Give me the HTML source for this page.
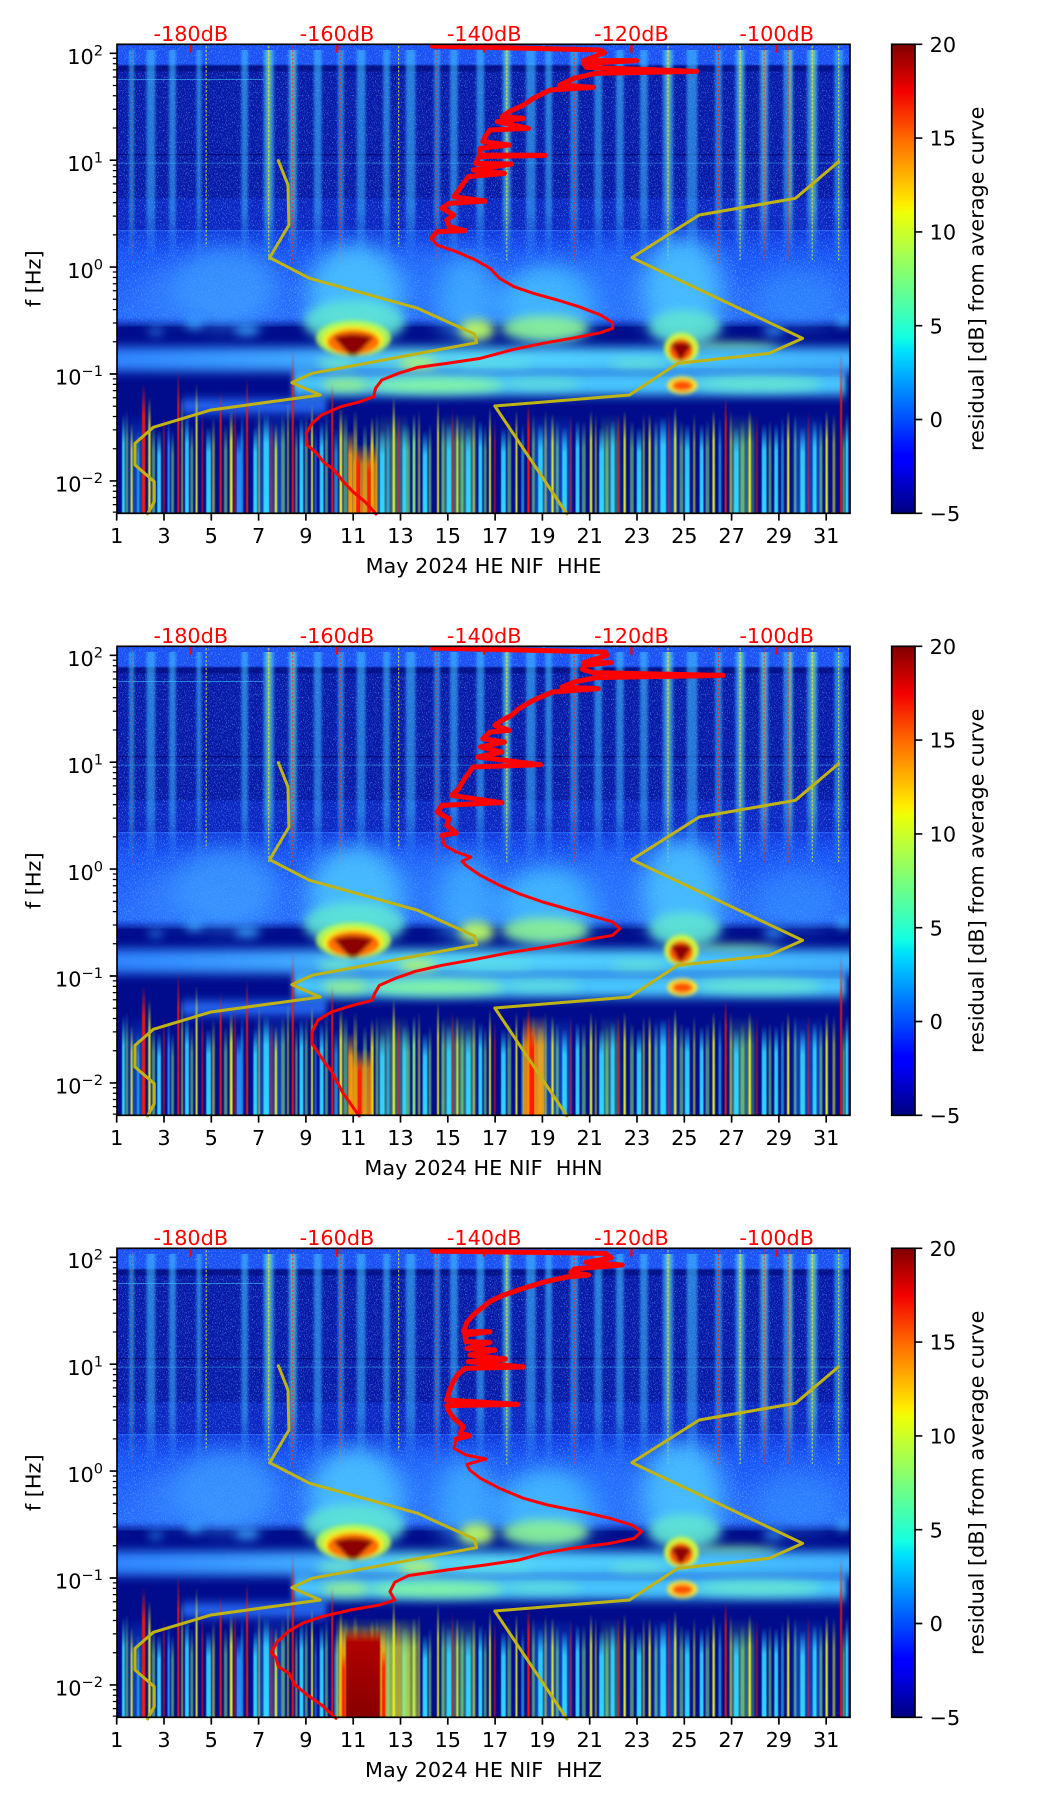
<!DOCTYPE html>
<html><head><meta charset="utf-8">
<style>
html,body{margin:0;padding:0;background:#fff;}
body{width:1052px;height:1806px;overflow:hidden;}
svg{display:block;}
text{font-family:"DejaVu Sans","Liberation Sans",sans-serif;font-size:20.8px;fill:#000;}
.r{fill:#ff0000;}
</style></head><body>
<svg width="1052" height="1806" viewBox="0 0 1052 1806" xmlns="http://www.w3.org/2000/svg">
<defs>
<linearGradient id="gmid" x1="0" y1="0" x2="0" y2="1">
<stop offset="0" stop-color="#0f36dc"/><stop offset="0.25" stop-color="#1a52f6"/><stop offset="1" stop-color="#2a70ff"/>
</linearGradient>
<linearGradient id="ug" x1="0" y1="0" x2="0" y2="1">
<stop offset="0" stop-color="#40c0ff" stop-opacity="0.6"/><stop offset="0.75" stop-color="#40c0ff" stop-opacity="0.5"/><stop offset="1" stop-color="#40c0ff" stop-opacity="0"/>
</linearGradient>
<linearGradient id="ugY" x1="0" y1="0" x2="0" y2="1">
<stop offset="0" stop-color="#c8ff40" stop-opacity="0.5"/><stop offset="0.7" stop-color="#c8ff40" stop-opacity="0.35"/><stop offset="1" stop-color="#c8ff40" stop-opacity="0"/>
</linearGradient>
<linearGradient id="lC" x1="0" y1="0" x2="0" y2="1"><stop offset="0" stop-color="#30d8ff" stop-opacity="0"/><stop offset="0.3" stop-color="#30d8ff" stop-opacity="0.9"/><stop offset="1" stop-color="#30d8ff"/></linearGradient>
<linearGradient id="lY" x1="0" y1="0" x2="0" y2="1"><stop offset="0" stop-color="#e8f020" stop-opacity="0"/><stop offset="0.3" stop-color="#e8f020" stop-opacity="0.9"/><stop offset="1" stop-color="#e8f020"/></linearGradient>
<linearGradient id="lR" x1="0" y1="0" x2="0" y2="1"><stop offset="0" stop-color="#ff1a00" stop-opacity="0"/><stop offset="0.25" stop-color="#ff1a00" stop-opacity="0.9"/><stop offset="1" stop-color="#ff1a00"/></linearGradient>
<linearGradient id="lO" x1="0" y1="0" x2="0" y2="1"><stop offset="0" stop-color="#ff9a00" stop-opacity="0"/><stop offset="0.3" stop-color="#ff9a00" stop-opacity="0.9"/><stop offset="1" stop-color="#ff9a00"/></linearGradient>
<linearGradient id="lG" x1="0" y1="0" x2="0" y2="1"><stop offset="0" stop-color="#90ff70" stop-opacity="0"/><stop offset="0.3" stop-color="#90ff70" stop-opacity="0.85"/><stop offset="1" stop-color="#90ff70" stop-opacity="0.9"/></linearGradient>
<linearGradient id="lB" x1="0" y1="0" x2="0" y2="1"><stop offset="0" stop-color="#2a90ff" stop-opacity="0"/><stop offset="0.3" stop-color="#2a90ff" stop-opacity="0.9"/><stop offset="1" stop-color="#2a90ff"/></linearGradient>
<linearGradient id="lDR" x1="0" y1="0" x2="0" y2="1"><stop offset="0" stop-color="#b00000" stop-opacity="0"/><stop offset="0.15" stop-color="#b00000"/><stop offset="1" stop-color="#880000"/></linearGradient>
<linearGradient id="b1" x1="0" y1="0" x2="1" y2="0">
<stop offset="0" stop-color="#2f84ff"/><stop offset="0.25" stop-color="#40a8ff"/><stop offset="0.4" stop-color="#58d8f0"/><stop offset="0.6" stop-color="#50d0ff"/><stop offset="0.8" stop-color="#48c4ff"/><stop offset="1" stop-color="#40b0ff"/>
</linearGradient>
<linearGradient id="jet" x1="0" y1="0" x2="0" y2="1">
<stop offset="0" stop-color="#800000"/><stop offset="0.1" stop-color="#f30000"/><stop offset="0.2" stop-color="#ff6800"/><stop offset="0.3" stop-color="#ffc600"/><stop offset="0.34" stop-color="#ffec00"/><stop offset="0.36" stop-color="#eeff07"/><stop offset="0.5" stop-color="#7bff7b"/><stop offset="0.625" stop-color="#14ffe2"/><stop offset="0.65" stop-color="#00e5f7"/><stop offset="0.66" stop-color="#00dbff"/><stop offset="0.875" stop-color="#0000ff"/><stop offset="0.89" stop-color="#0000ff"/><stop offset="1" stop-color="#000080"/>
</linearGradient>
<filter id="spk" x="0" y="0" width="100%" height="100%">
<feTurbulence type="fractalNoise" baseFrequency="0.55 0.2" numOctaves="2" seed="7" result="n"/>
<feColorMatrix in="n" type="matrix" values="0 0 0 0 0.2  0 0 0 0 0.75  0 0 0 0 1  3.5 0 0 0 -1.85"/>
</filter>
<filter id="fh" x="-20%" y="-5%" width="140%" height="110%"><feGaussianBlur stdDeviation="3 0"/></filter>
<filter id="fh2" x="-20%" y="-5%" width="140%" height="110%"><feGaussianBlur stdDeviation="1.2 0"/></filter>
<filter id="fb1" x="-60%" y="-60%" width="220%" height="220%"><feGaussianBlur stdDeviation="25 30"/></filter>
<filter id="fb2" x="-60%" y="-60%" width="220%" height="220%"><feGaussianBlur stdDeviation="10 15"/></filter>
<filter id="fb3" x="-60%" y="-60%" width="220%" height="220%"><feGaussianBlur stdDeviation="4 6"/></filter>
<filter id="fb4" x="-10%" y="-80%" width="120%" height="260%"><feGaussianBlur stdDeviation="6 16"/></filter>
<filter id="fb5" x="-10%" y="-80%" width="120%" height="260%"><feGaussianBlur stdDeviation="4 12"/></filter>
<clipPath id="pc"><rect x="14.6" y="43" width="1524" height="1407"/></clipPath>

<g id="spec"><g clip-path="url(#pc)">
<rect x="0" y="0" width="1560" height="1500" fill="#000c8c"/>
<rect x="0" y="40" width="1560" height="70" fill="#1b4ff4"/>
<rect x="0" y="108" width="1560" height="400" fill="#0717a8"/>
<rect x="0" y="505" width="1560" height="105" fill="#0b24c2"/>
<rect x="0" y="600" width="1560" height="290" fill="url(#gmid)"/>
<rect x="0" y="40" width="1560" height="850" filter="url(#spk)" opacity="0.55"/>
<rect x="0" y="104" width="1560" height="20" fill="#000a78" opacity="0.6"/>
<rect x="0" y="147" width="320" height="3" fill="#40e8ff" opacity="0.5"/>
<rect x="0" y="372" width="1560" height="4" fill="#000060" opacity="0.6"/>
<rect x="0" y="398" width="1560" height="3" fill="#40e0ff" opacity="0.35"/>
<rect x="0" y="600" width="1560" height="4" fill="#3a80ff" opacity="0.5"/>
<g filter="url(#fh)">
<rect x="40" y="60" width="10" height="640" fill="url(#ug)"/>
<rect x="76" y="60" width="18" height="640" fill="url(#ug)"/>
<rect x="123" y="60" width="14" height="640" fill="url(#ug)"/>
<rect x="180" y="60" width="10" height="640" fill="url(#ug)"/>
<rect x="273" y="60" width="14" height="640" fill="url(#ug)"/>
<rect x="319" y="60" width="22" height="640" fill="url(#ug)"/>
<rect x="371" y="60" width="18" height="640" fill="url(#ug)"/>
<rect x="424" y="60" width="16" height="640" fill="url(#ug)"/>
<rect x="474" y="60" width="12" height="640" fill="url(#ug)"/>
<rect x="513" y="60" width="18" height="640" fill="url(#ug)"/>
<rect x="568" y="60" width="14" height="640" fill="url(#ug)"/>
<rect x="615" y="60" width="20" height="640" fill="url(#ug)"/>
<rect x="674" y="60" width="12" height="640" fill="url(#ug)"/>
<rect x="707" y="60" width="16" height="640" fill="url(#ug)"/>
<rect x="762" y="60" width="16" height="640" fill="url(#ug)"/>
<rect x="816" y="60" width="18" height="640" fill="url(#ug)"/>
<rect x="865" y="60" width="20" height="640" fill="url(#ug)"/>
<rect x="905" y="60" width="14" height="640" fill="url(#ug)"/>
<rect x="957" y="60" width="16" height="640" fill="url(#ug)"/>
<rect x="1007" y="60" width="16" height="640" fill="url(#ug)"/>
<rect x="1052" y="60" width="16" height="640" fill="url(#ug)"/>
<rect x="1102" y="60" width="16" height="640" fill="url(#ug)"/>
<rect x="1149" y="60" width="22" height="640" fill="url(#ug)"/>
<rect x="1199" y="60" width="22" height="640" fill="url(#ug)"/>
<rect x="1258" y="60" width="14" height="640" fill="url(#ug)"/>
<rect x="1300" y="60" width="20" height="640" fill="url(#ug)"/>
<rect x="1351" y="60" width="18" height="640" fill="url(#ug)"/>
<rect x="1400" y="60" width="20" height="640" fill="url(#ug)"/>
<rect x="1449" y="60" width="22" height="640" fill="url(#ug)"/>
<rect x="1506" y="60" width="18" height="640" fill="url(#ug)"/>
<rect x="326" y="60" width="8" height="620" fill="url(#ugY)"/>
<rect x="377" y="60" width="6" height="620" fill="url(#ugY)"/>
<rect x="822" y="60" width="6" height="620" fill="url(#ugY)"/>
<rect x="1157" y="60" width="7" height="620" fill="url(#ugY)"/>
<rect x="1307" y="60" width="7" height="620" fill="url(#ugY)"/>
<rect x="1357" y="60" width="6" height="620" fill="url(#ugY)"/>
<rect x="1457" y="60" width="8" height="620" fill="url(#ugY)"/>
<rect x="1411" y="60" width="6" height="620" fill="url(#ugY)"/>
</g>
<g opacity="0.7" fill="none" stroke-width="2.5" stroke-dasharray="7 5">
<path d="M45,48V690" stroke="#ff2000"/>
<path d="M200,48V650" stroke="#f0f020"/>
<path d="M330,48V690" stroke="#f0f020"/>
<path d="M380,48V700" stroke="#ff2000"/>
<path d="M480,48V700" stroke="#ff2000"/>
<path d="M600,48V650" stroke="#f0f020"/>
<path d="M680,48V690" stroke="#ff2000"/>
<path d="M825,48V690" stroke="#f0f020"/>
<path d="M965,48V690" stroke="#ff2000"/>
<path d="M1160,48V690" stroke="#f0f020"/>
<path d="M1265,48V700" stroke="#ff2000"/>
<path d="M1310,48V690" stroke="#f0f020"/>
<path d="M1360,48V690" stroke="#ff2000"/>
<path d="M1410,48V690" stroke="#ff2000"/>
<path d="M1460,48V690" stroke="#f0f020"/>
<path d="M1515,48V690" stroke="#f0f020"/>
</g>
<!-- dark band -->
<g filter="url(#fb5)">
<rect x="0" y="880" width="1560" height="72" fill="#000c8c"/>
</g>
<!-- clouds -->
<g filter="url(#fb1)">
<ellipse cx="240" cy="770" rx="110" ry="120" fill="#40a8ff" opacity="0.65"/>
<ellipse cx="120" cy="790" rx="60" ry="80" fill="#3a90ff" opacity="0.45"/>
<ellipse cx="510" cy="790" rx="100" ry="150" fill="#4cc8ff" opacity="0.85"/>
<ellipse cx="740" cy="800" rx="60" ry="130" fill="#44b8ff" opacity="0.75"/>
<ellipse cx="910" cy="820" rx="100" ry="120" fill="#48c4ff" opacity="0.8"/>
<ellipse cx="1190" cy="780" rx="85" ry="160" fill="#4cc8ff" opacity="0.85"/>
<ellipse cx="1430" cy="800" rx="90" ry="90" fill="#3a98ff" opacity="0.5"/>
<ellipse cx="1030" cy="760" rx="60" ry="100" fill="#3088ff" opacity="0.4"/>
<ellipse cx="660" cy="740" rx="50" ry="90" fill="#3088ff" opacity="0.4"/>
</g>
<g filter="url(#fb2)">
<ellipse cx="175" cy="880" rx="18" ry="16" fill="#3aa8ff" opacity="0.9"/>
<ellipse cx="285" cy="900" rx="26" ry="16" fill="#3aa8ff" opacity="0.9"/>
<ellipse cx="95" cy="905" rx="16" ry="10" fill="#3aa8ff" opacity="0.8"/>
<ellipse cx="1380" cy="903" rx="22" ry="13" fill="#3aa8ff" opacity="0.85"/>
<ellipse cx="1525" cy="875" rx="14" ry="14" fill="#40c0ff" opacity="0.9"/>
<ellipse cx="508" cy="875" rx="105" ry="65" fill="#60e8d0" opacity="0.8"/>
<ellipse cx="762" cy="900" rx="36" ry="32" fill="#c0ff60" opacity="0.9"/>
<ellipse cx="905" cy="895" rx="90" ry="38" fill="#90f890" opacity="0.85"/>
<ellipse cx="1195" cy="890" rx="75" ry="50" fill="#60e8d0" opacity="0.85"/>
<ellipse cx="1300" cy="955" rx="90" ry="18" fill="#a0ff70" opacity="0.7"/>
</g>
<!-- bands -->
<g filter="url(#fb4)">
<rect x="0" y="952" width="1560" height="72" fill="url(#b1)"/>
<rect x="380" y="1030" width="1150" height="66" fill="#48c8ff"/>
<rect x="150" y="1110" width="300" height="38" fill="#2a74ff"/>
</g>
<g filter="url(#fb5)" opacity="0.55">
<rect x="420" y="1022" width="1110" height="10" fill="#1a50f0"/>
</g>
<g filter="url(#fb2)">
<ellipse cx="640" cy="1000" rx="40" ry="14" fill="#d8ff40" opacity="0.85"/>
<ellipse cx="470" cy="1000" rx="40" ry="14" fill="#80ffb0" opacity="0.7"/>
<ellipse cx="1100" cy="1000" rx="60" ry="14" fill="#70f0c0" opacity="0.6"/>
<ellipse cx="800" cy="1000" rx="80" ry="14" fill="#60e8e0" opacity="0.6"/>
<ellipse cx="680" cy="1066" rx="140" ry="24" fill="#90ff90" opacity="0.8"/>
<ellipse cx="1350" cy="1062" rx="130" ry="22" fill="#70f0c0" opacity="0.7"/>
<ellipse cx="490" cy="1065" rx="50" ry="20" fill="#b0ff60" opacity="0.7"/>
<ellipse cx="900" cy="1062" rx="80" ry="18" fill="#70f0c0" opacity="0.5"/>
</g>
<!-- lower streak haze -->
<g opacity="0.4" filter="url(#fh)">
<rect x="300" y="1150" width="60" height="300" fill="url(#lB)"/>
<rect x="690" y="1150" width="70" height="300" fill="url(#lG)"/>
<rect x="1130" y="1150" width="50" height="300" fill="url(#lB)"/>
<rect x="1290" y="1150" width="50" height="300" fill="url(#lG)"/>
<rect x="40" y="1150" width="30" height="300" fill="url(#lB)"/>
<rect x="560" y="1150" width="60" height="300" fill="url(#lG)"/>
<rect x="880" y="1150" width="80" height="300" fill="url(#lB)"/>
<rect x="1020" y="1150" width="40" height="300" fill="url(#lG)"/>
<rect x="1420" y="1150" width="60" height="300" fill="url(#lB)"/>
</g>
<g filter="url(#fh2)">
<rect x="25" y="1150" width="6" height="300" fill="url(#lC)"/>
<rect x="43" y="1180" width="4" height="270" fill="url(#lY)"/>
<rect x="66.5" y="1060" width="7" height="390" fill="url(#lR)"/>
<rect x="79.5" y="1100" width="5" height="350" fill="url(#lY)"/>
<rect x="98" y="1200" width="8" height="250" fill="url(#lC)"/>
<rect x="119.5" y="1170" width="5" height="280" fill="url(#lB)"/>
<rect x="140" y="1020" width="4" height="430" fill="url(#lR)"/>
<rect x="156" y="1150" width="8" height="300" fill="url(#lC)"/>
<rect x="178" y="1060" width="4" height="390" fill="url(#lY)"/>
<rect x="200" y="1190" width="10" height="260" fill="url(#lC)"/>
<rect x="228" y="1080" width="4" height="370" fill="url(#lR)"/>
<rect x="249" y="1140" width="6" height="310" fill="url(#lY)"/>
<rect x="263" y="1200" width="10" height="250" fill="url(#lB)"/>
<rect x="283" y="1040" width="4" height="410" fill="url(#lR)"/>
<rect x="298" y="1190" width="8" height="260" fill="url(#lC)"/>
<rect x="319" y="1150" width="12" height="300" fill="url(#lC)"/>
<rect x="342.5" y="1180" width="5" height="270" fill="url(#lY)"/>
<rect x="378" y="960" width="4" height="490" fill="url(#lR)"/>
<rect x="394" y="1160" width="8" height="290" fill="url(#lC)"/>
<rect x="418" y="1120" width="4" height="330" fill="url(#lY)"/>
<rect x="436" y="1170" width="8" height="280" fill="url(#lC)"/>
<rect x="460" y="1060" width="4" height="390" fill="url(#lR)"/>
<rect x="477" y="1130" width="6" height="320" fill="url(#lY)"/>
<rect x="495" y="1200" width="10" height="250" fill="url(#lO)"/>
<rect x="542" y="1160" width="6" height="290" fill="url(#lY)"/>
<rect x="561" y="1200" width="10" height="250" fill="url(#lC)"/>
<rect x="587.5" y="1100" width="5" height="350" fill="url(#lY)"/>
<rect x="608" y="1180" width="8" height="270" fill="url(#lC)"/>
<rect x="629" y="1150" width="6" height="300" fill="url(#lG)"/>
<rect x="650" y="1200" width="10" height="250" fill="url(#lC)"/>
<rect x="680" y="1110" width="4" height="340" fill="url(#lY)"/>
<rect x="700" y="1180" width="10" height="270" fill="url(#lC)"/>
<rect x="720" y="1150" width="4" height="300" fill="url(#lY)"/>
<rect x="740" y="1190" width="10" height="260" fill="url(#lC)"/>
<rect x="766" y="1170" width="8" height="280" fill="url(#lC)"/>
<rect x="788" y="1130" width="4" height="320" fill="url(#lY)"/>
<rect x="813" y="1190" width="10" height="260" fill="url(#lC)"/>
<rect x="843" y="1140" width="4" height="310" fill="url(#lY)"/>
<rect x="867.5" y="1120" width="5" height="330" fill="url(#lR)"/>
<rect x="890" y="1180" width="10" height="270" fill="url(#lC)"/>
<rect x="917.5" y="1150" width="5" height="300" fill="url(#lY)"/>
<rect x="940" y="1190" width="10" height="260" fill="url(#lC)"/>
<rect x="968" y="1170" width="8" height="280" fill="url(#lC)"/>
<rect x="997.5" y="1140" width="5" height="310" fill="url(#lY)"/>
<rect x="1017" y="1190" width="10" height="260" fill="url(#lC)"/>
<rect x="1041" y="1170" width="8" height="280" fill="url(#lC)"/>
<rect x="1067.5" y="1140" width="5" height="310" fill="url(#lY)"/>
<rect x="1095" y="1190" width="10" height="260" fill="url(#lC)"/>
<rect x="1119.5" y="1150" width="5" height="300" fill="url(#lY)"/>
<rect x="1144" y="1160" width="12" height="290" fill="url(#lC)"/>
<rect x="1172.5" y="1130" width="5" height="320" fill="url(#lY)"/>
<rect x="1195" y="1180" width="10" height="270" fill="url(#lC)"/>
<rect x="1226" y="1180" width="8" height="270" fill="url(#lC)"/>
<rect x="1252.5" y="1140" width="5" height="310" fill="url(#lY)"/>
<rect x="1278" y="1100" width="4" height="350" fill="url(#lR)"/>
<rect x="1297" y="1190" width="10" height="260" fill="url(#lC)"/>
<rect x="1327.5" y="1140" width="5" height="310" fill="url(#lY)"/>
<rect x="1355" y="1180" width="10" height="270" fill="url(#lC)"/>
<rect x="1381" y="1180" width="8" height="270" fill="url(#lC)"/>
<rect x="1407.5" y="1140" width="5" height="310" fill="url(#lY)"/>
<rect x="1435" y="1190" width="10" height="260" fill="url(#lC)"/>
<rect x="1461" y="1170" width="8" height="280" fill="url(#lC)"/>
<rect x="1487.5" y="1140" width="5" height="310" fill="url(#lY)"/>
<rect x="1518" y="970" width="4" height="480" fill="url(#lR)"/>
<rect x="1529" y="1150" width="6" height="300" fill="url(#lC)"/>
</g>
<g filter="url(#fh2)" opacity="0.6">
<rect x="32" y="1140" width="6" height="310" fill="url(#lG)"/>
<rect x="56" y="1200" width="5" height="250" fill="url(#lC)"/>
<rect x="87" y="1180" width="7" height="270" fill="url(#lG)"/>
<rect x="110" y="1150" width="4" height="300" fill="url(#lR)"/>
<rect x="127" y="1200" width="6" height="250" fill="url(#lG)"/>
<rect x="148" y="1100" width="4" height="350" fill="url(#lY)"/>
<rect x="167" y="1180" width="6" height="270" fill="url(#lG)"/>
<rect x="190" y="1140" width="4" height="310" fill="url(#lR)"/>
<rect x="212" y="1160" width="6" height="290" fill="url(#lY)"/>
<rect x="237" y="1180" width="7" height="270" fill="url(#lG)"/>
<rect x="258" y="1120" width="4" height="330" fill="url(#lR)"/>
<rect x="272" y="1150" width="5" height="300" fill="url(#lC)"/>
<rect x="308" y="1120" width="4" height="330" fill="url(#lY)"/>
<rect x="333" y="1160" width="5" height="290" fill="url(#lR)"/>
<rect x="356" y="1150" width="8" height="300" fill="url(#lG)"/>
<rect x="368" y="1110" width="4" height="340" fill="url(#lY)"/>
<rect x="385" y="1180" width="5" height="270" fill="url(#lG)"/>
<rect x="405" y="1150" width="6" height="300" fill="url(#lG)"/>
<rect x="425" y="1190" width="5" height="260" fill="url(#lB)"/>
<rect x="447" y="1150" width="6" height="300" fill="url(#lG)"/>
<rect x="466" y="1190" width="8" height="260" fill="url(#lC)"/>
<rect x="485" y="1150" width="9" height="300" fill="url(#lG)"/>
<rect x="506" y="1140" width="8" height="310" fill="url(#lY)"/>
<rect x="526" y="1180" width="8" height="270" fill="url(#lG)"/>
<rect x="552" y="1150" width="6" height="300" fill="url(#lG)"/>
<rect x="575" y="1180" width="6" height="270" fill="url(#lC)"/>
<rect x="598" y="1150" width="4" height="300" fill="url(#lR)"/>
<rect x="616" y="1180" width="8" height="270" fill="url(#lG)"/>
<rect x="640" y="1140" width="5" height="310" fill="url(#lY)"/>
<rect x="662" y="1180" width="6" height="270" fill="url(#lG)"/>
<rect x="689" y="1160" width="6" height="290" fill="url(#lG)"/>
<rect x="710" y="1130" width="4" height="320" fill="url(#lR)"/>
<rect x="729" y="1170" width="6" height="280" fill="url(#lG)"/>
<rect x="754" y="1150" width="5" height="300" fill="url(#lY)"/>
<rect x="777" y="1180" width="6" height="270" fill="url(#lG)"/>
<rect x="798" y="1160" width="4" height="290" fill="url(#lR)"/>
<rect x="826" y="1170" width="8" height="280" fill="url(#lG)"/>
<rect x="855" y="1180" width="6" height="270" fill="url(#lC)"/>
<rect x="877" y="1150" width="6" height="300" fill="url(#lG)"/>
<rect x="903" y="1140" width="5" height="310" fill="url(#lY)"/>
<rect x="927" y="1170" width="6" height="280" fill="url(#lG)"/>
<rect x="956" y="1150" width="4" height="300" fill="url(#lR)"/>
<rect x="981" y="1170" width="8" height="280" fill="url(#lG)"/>
<rect x="1008" y="1150" width="4" height="300" fill="url(#lY)"/>
<rect x="1030" y="1180" width="6" height="270" fill="url(#lG)"/>
<rect x="1055" y="1140" width="4" height="310" fill="url(#lR)"/>
<rect x="1081" y="1170" width="8" height="280" fill="url(#lG)"/>
<rect x="1107" y="1150" width="5" height="300" fill="url(#lY)"/>
<rect x="1132" y="1170" width="6" height="280" fill="url(#lG)"/>
<rect x="1160" y="1140" width="4" height="310" fill="url(#lR)"/>
<rect x="1184" y="1170" width="8" height="280" fill="url(#lG)"/>
<rect x="1212" y="1150" width="5" height="300" fill="url(#lY)"/>
<rect x="1238" y="1170" width="8" height="280" fill="url(#lG)"/>
<rect x="1265" y="1160" width="6" height="290" fill="url(#lC)"/>
<rect x="1288" y="1140" width="5" height="310" fill="url(#lY)"/>
<rect x="1311" y="1170" width="8" height="280" fill="url(#lG)"/>
<rect x="1343" y="1150" width="4" height="300" fill="url(#lR)"/>
<rect x="1369" y="1170" width="6" height="280" fill="url(#lG)"/>
<rect x="1395" y="1160" width="6" height="290" fill="url(#lC)"/>
<rect x="1422" y="1150" width="5" height="300" fill="url(#lG)"/>
<rect x="1450" y="1140" width="4" height="310" fill="url(#lR)"/>
<rect x="1475" y="1170" width="6" height="280" fill="url(#lG)"/>
<rect x="1502" y="1150" width="6" height="300" fill="url(#lY)"/>
<rect x="1523" y="1180" width="5" height="270" fill="url(#lG)"/>
</g>
<!-- hot spots -->
<g filter="url(#fb3)">
<ellipse cx="506" cy="925" rx="78" ry="54" fill="#b8ff50" opacity="0.85"/>
<ellipse cx="506" cy="930" rx="64" ry="44" fill="#f0f020"/>
<ellipse cx="506" cy="936" rx="54" ry="38" fill="#ff7000"/>
<path d="M465,922 Q505,902 548,922 L512,976 L498,976 Z" fill="#8c0000"/>
<ellipse cx="1188" cy="955" rx="36" ry="46" fill="#e0ff30" opacity="0.9"/>
<ellipse cx="1187" cy="960" rx="25" ry="34" fill="#ff5a00"/>
<path d="M1166,942 Q1188,930 1210,945 L1186,994 Z" fill="#900000"/>
<ellipse cx="1190" cy="1066" rx="32" ry="26" fill="#ffe030"/>
<ellipse cx="1190" cy="1067" rx="21" ry="16" fill="#ff5000"/>
</g>
</g></g>

<g id="ax">
<path d="M109.7,53.3H117M109.7,160.2H117M109.7,267.1H117M109.7,374H117M109.7,480.9H117" stroke="#000" stroke-width="1.67" fill="none"/>
<path d="M112.8,448.7H117M112.8,429.9H117M112.8,416.5H117M112.8,406.2H117M112.8,397.7H117M112.8,390.6H117M112.8,384.4H117M112.8,378.9H117M112.8,341.8H117M112.8,323H117M112.8,309.6H117M112.8,299.3H117M112.8,290.8H117M112.8,283.7H117M112.8,277.5H117M112.8,272H117M112.8,234.9H117M112.8,216.1H117M112.8,202.7H117M112.8,192.4H117M112.8,183.9H117M112.8,176.8H117M112.8,170.6H117M112.8,165.1H117M112.8,128H117M112.8,109.2H117M112.8,95.8H117M112.8,85.5H117M112.8,77H117M112.8,69.9H117M112.8,63.7H117M112.8,58.2H117M112.8,485.8H117M112.8,491.3H117M112.8,497.5H117M112.8,504.6H117M112.8,512.1H117" stroke="#000" stroke-width="1.25" fill="none"/>
<path d="M116.7,513.3V520.6M164,513.3V520.6M211.3,513.3V520.6M258.6,513.3V520.6M305.9,513.3V520.6M353.2,513.3V520.6M400.5,513.3V520.6M447.8,513.3V520.6M495.1,513.3V520.6M542.4,513.3V520.6M589.7,513.3V520.6M637,513.3V520.6M684.3,513.3V520.6M731.6,513.3V520.6M778.9,513.3V520.6M826.2,513.3V520.6" stroke="#000" stroke-width="1.67" fill="none"/>
<path d="M190.8,44.3V52.6M337,44.3V52.6M484.2,44.3V52.6M631.4,44.3V52.6M776.7,44.3V52.6" stroke="#ff0000" stroke-width="2.3" fill="none"/>
<rect x="117" y="44.3" width="733" height="469" fill="none" stroke="#000" stroke-width="1.67"/>
<rect x="891.7" y="44.3" width="23.3" height="469" fill="url(#jet)" stroke="#000" stroke-width="1.67"/>
<path d="M915,44.3H922.3M915,138.1H922.3M915,231.9H922.3M915,325.7H922.3M915,419.5H922.3M915,513.3H922.3" stroke="#000" stroke-width="1.67" fill="none"/>
</g>
</defs>

<!-- Panel 1 -->
<use href="#spec" transform="translate(110,30) scale(0.481,0.33333)"/>
<g transform="translate(110,30) scale(0.481,0.33333)" fill="none" stroke-linejoin="round" stroke-linecap="round">
<g clip-path="url(#pc)">
<rect x="505" y="1240" width="50" height="210" fill="url(#lO)" opacity="0.8"/>
<rect x="512" y="1260" width="8" height="190" fill="url(#lR)"/>
<rect x="535" y="1290" width="7" height="160" fill="url(#lR)"/>
</g>
<polyline points="350,392 370,465 372,585 332,683 415,745 640,835 758,912 762,938 420,1030 378,1058 437,1095 210,1140 90,1192 52,1240 52,1305 92,1355 92,1415 78,1452" stroke="#c0b414" stroke-width="3" vector-effect="non-scaling-stroke"/>
<polyline points="1515,395 1425,505 1225,555 1085,683 1440,925 1370,970 1180,1000 1080,1095 800,1128 950,1452" stroke="#c0b414" stroke-width="3" vector-effect="non-scaling-stroke"/>
<polyline points="670,48 1020,60 1028,68 985,92 1095,92 985,100 990,112 1220,124 1010,130 965,145 935,165 1005,172 915,180 880,205 860,225 830,245 815,260 860,265 805,275 870,295 790,300 780,320 775,335 830,345 770,355 768,375 905,376 768,380 760,400 835,402 755,420 820,430 745,440 735,460 725,480 715,500 780,513 705,520 690,535 715,555 700,570 705,590 738,602 680,605 668,625" stroke="#ff0000" stroke-width="5" vector-effect="non-scaling-stroke"/>
<polyline points="668,625 680,645 720,665 760,690 790,715 810,745 840,770 880,790 930,810 975,830 1020,855 1045,878 1045,895 1020,908 960,925 900,940 840,958 770,985 700,1000 640,1012 600,1030 565,1050 552,1075 548,1100 520,1115 480,1130 440,1155 420,1180 408,1210 410,1245 430,1270 445,1298 465,1318 485,1355 505,1385 530,1415 553,1452" stroke="#ff0000" stroke-width="3" vector-effect="non-scaling-stroke"/>
</g>
<use href="#ax"/>
<text class="r" x="190.8" y="41" text-anchor="middle">-180dB</text>
<text class="r" x="337" y="41" text-anchor="middle">-160dB</text>
<text class="r" x="484.2" y="41" text-anchor="middle">-140dB</text>
<text class="r" x="631.4" y="41" text-anchor="middle">-120dB</text>
<text class="r" x="776.7" y="41" text-anchor="middle">-100dB</text>
<text x="103" y="64" text-anchor="end">10<tspan dy="-8.5" font-size="14.6">2</tspan></text>
<text x="103" y="170.9" text-anchor="end">10<tspan dy="-8.5" font-size="14.6">1</tspan></text>
<text x="103" y="277.8" text-anchor="end">10<tspan dy="-8.5" font-size="14.6">0</tspan></text>
<text x="103" y="384.7" text-anchor="end">10<tspan dy="-8.5" font-size="14.6">−1</tspan></text>
<text x="103" y="491.6" text-anchor="end">10<tspan dy="-8.5" font-size="14.6">−2</tspan></text>
<g text-anchor="middle">
<text x="116.7" y="543.2">1</text><text x="164" y="543.2">3</text><text x="211.3" y="543.2">5</text><text x="258.6" y="543.2">7</text><text x="305.9" y="543.2">9</text><text x="353.2" y="543.2">11</text><text x="400.5" y="543.2">13</text><text x="447.8" y="543.2">15</text><text x="495.1" y="543.2">17</text><text x="542.4" y="543.2">19</text><text x="589.7" y="543.2">21</text><text x="637" y="543.2">23</text><text x="684.3" y="543.2">25</text><text x="731.6" y="543.2">27</text><text x="778.9" y="543.2">29</text><text x="826.2" y="543.2">31</text>
</g>
<text x="483.5" y="573" text-anchor="middle" style="white-space:pre">May 2024 HE NIF  HHE</text>
<text transform="translate(40.6,278.8) rotate(-90)" text-anchor="middle">f [Hz]</text>
<text x="929.6" y="51.9">20</text><text x="929.6" y="145.7">15</text><text x="929.6" y="239.5">10</text><text x="929.6" y="333.3">5</text><text x="929.6" y="427.1">0</text><text x="929.6" y="520.9">−5</text>
<text transform="translate(983.5,278.8) rotate(-90)" text-anchor="middle">residual [dB] from average curve</text>

<!-- Panel 2 -->
<use href="#spec" transform="translate(110,632) scale(0.481,0.33333)"/>
<g transform="translate(110,632) scale(0.481,0.33333)" fill="none" stroke-linejoin="round" stroke-linecap="round">
<g clip-path="url(#pc)">
<rect x="858" y="1150" width="45" height="300" fill="url(#lO)" opacity="0.9"/>
<rect x="872" y="1180" width="10" height="270" fill="url(#lR)"/>
<rect x="500" y="1250" width="45" height="200" fill="url(#lO)" opacity="0.8"/>
<rect x="515" y="1280" width="8" height="170" fill="url(#lR)"/>
</g>
<polyline points="350,392 370,465 372,585 332,683 415,745 640,835 758,912 762,938 420,1030 378,1058 437,1095 210,1140 90,1192 52,1240 52,1305 92,1355 92,1415 78,1452" stroke="#c0b414" stroke-width="3" vector-effect="non-scaling-stroke"/>
<polyline points="1515,395 1425,505 1225,555 1085,683 1440,925 1370,970 1180,1000 1080,1095 800,1128 950,1452" stroke="#c0b414" stroke-width="3" vector-effect="non-scaling-stroke"/>
<polyline points="670,48 1030,60 1033,70 985,92 1042,92 985,100 982,112 1005,122 1275,130 1010,137 965,150 940,165 1015,170 920,180 880,205 850,230 835,250 815,265 800,280 830,295 790,300 775,320 820,330 770,345 815,360 765,375 895,398 755,405 745,425 735,445 725,470 710,490 815,512 690,520 680,540 705,560 700,580 720,603 690,610" stroke="#ff0000" stroke-width="5" vector-effect="non-scaling-stroke"/>
<polyline points="690,610 695,640 720,660 750,675 732,688 740,700 770,730 810,760 850,785 900,810 960,835 1010,855 1045,870 1060,890 1045,910 985,925 905,945 830,962 760,982 690,1000 635,1018 595,1038 560,1060 550,1085 545,1105 505,1120 460,1140 432,1165 420,1200 420,1235 432,1260 448,1295 462,1320 472,1350 485,1385 500,1415 518,1452" stroke="#ff0000" stroke-width="3" vector-effect="non-scaling-stroke"/>
</g>
<use href="#ax" transform="translate(0,602)"/>
<text class="r" x="190.8" y="643" text-anchor="middle">-180dB</text>
<text class="r" x="337" y="643" text-anchor="middle">-160dB</text>
<text class="r" x="484.2" y="643" text-anchor="middle">-140dB</text>
<text class="r" x="631.4" y="643" text-anchor="middle">-120dB</text>
<text class="r" x="776.7" y="643" text-anchor="middle">-100dB</text>
<text x="103" y="666" text-anchor="end">10<tspan dy="-8.5" font-size="14.6">2</tspan></text>
<text x="103" y="772.9" text-anchor="end">10<tspan dy="-8.5" font-size="14.6">1</tspan></text>
<text x="103" y="879.8" text-anchor="end">10<tspan dy="-8.5" font-size="14.6">0</tspan></text>
<text x="103" y="986.7" text-anchor="end">10<tspan dy="-8.5" font-size="14.6">−1</tspan></text>
<text x="103" y="1093.6" text-anchor="end">10<tspan dy="-8.5" font-size="14.6">−2</tspan></text>
<g text-anchor="middle">
<text x="116.7" y="1145.2">1</text><text x="164" y="1145.2">3</text><text x="211.3" y="1145.2">5</text><text x="258.6" y="1145.2">7</text><text x="305.9" y="1145.2">9</text><text x="353.2" y="1145.2">11</text><text x="400.5" y="1145.2">13</text><text x="447.8" y="1145.2">15</text><text x="495.1" y="1145.2">17</text><text x="542.4" y="1145.2">19</text><text x="589.7" y="1145.2">21</text><text x="637" y="1145.2">23</text><text x="684.3" y="1145.2">25</text><text x="731.6" y="1145.2">27</text><text x="778.9" y="1145.2">29</text><text x="826.2" y="1145.2">31</text>
</g>
<text x="483.5" y="1175" text-anchor="middle" style="white-space:pre">May 2024 HE NIF  HHN</text>
<text transform="translate(40.6,880.8) rotate(-90)" text-anchor="middle">f [Hz]</text>
<text x="929.6" y="653.9">20</text><text x="929.6" y="747.7">15</text><text x="929.6" y="841.5">10</text><text x="929.6" y="935.3">5</text><text x="929.6" y="1029.1">0</text><text x="929.6" y="1122.9">−5</text>
<text transform="translate(983.5,880.8) rotate(-90)" text-anchor="middle">residual [dB] from average curve</text>

<!-- Panel 3 -->
<use href="#spec" transform="translate(110,1234) scale(0.481,0.33333)"/>
<g transform="translate(110,1234) scale(0.481,0.33333)" fill="none" stroke-linejoin="round" stroke-linecap="round">
<g clip-path="url(#pc)" filter="url(#fh2)">
<rect x="470" y="1150" width="170" height="300" fill="url(#lY)" opacity="0.55"/>
<rect x="478" y="1170" width="95" height="280" fill="url(#lO)" opacity="0.8"/>
<rect x="490" y="1185" width="72" height="265" fill="url(#lDR)"/>
<rect x="565" y="1250" width="8" height="200" fill="url(#lR)"/>
<rect x="482" y="1260" width="7" height="190" fill="url(#lR)"/>
</g>
<polyline points="350,395 370,468 372,588 332,686 415,748 640,838 758,915 762,941 420,1033 378,1061 437,1098 210,1143 90,1195 52,1243 52,1308 92,1358 92,1418 78,1455" stroke="#c0b414" stroke-width="3" vector-effect="non-scaling-stroke"/>
<polyline points="1515,398 1425,508 1225,558 1085,686 1440,928 1370,973 1180,1003 1080,1098 800,1131 950,1455" stroke="#c0b414" stroke-width="3" vector-effect="non-scaling-stroke"/>
<polyline points="670,51 1030,58 1042,71 990,85 1065,93 965,105 958,115 995,123 950,129 900,145 855,165 815,185 790,203 772,223 755,243 742,265 735,293 790,293 738,303 740,323 790,325 742,343 800,348 748,363 822,375 745,383 860,399 738,403 722,423 712,448 705,473 700,498 848,511 700,515 705,533 715,553 735,578 728,598 748,605 720,615" stroke="#ff0000" stroke-width="5" vector-effect="non-scaling-stroke"/>
<polyline points="720,615 715,643 740,663 782,675 742,691 748,708 770,733 810,763 860,793 910,813 980,833 1040,853 1085,873 1105,893 1090,913 1040,928 960,943 900,958 850,978 780,993 700,1008 620,1025 592,1045 582,1073 592,1098 560,1113 500,1128 440,1148 400,1168 370,1193 348,1223 335,1255 345,1271 350,1298 372,1318 385,1353 410,1383 440,1413 470,1453" stroke="#ff0000" stroke-width="3" vector-effect="non-scaling-stroke"/>
</g>
<use href="#ax" transform="translate(0,1204)"/>
<text class="r" x="190.8" y="1245" text-anchor="middle">-180dB</text>
<text class="r" x="337" y="1245" text-anchor="middle">-160dB</text>
<text class="r" x="484.2" y="1245" text-anchor="middle">-140dB</text>
<text class="r" x="631.4" y="1245" text-anchor="middle">-120dB</text>
<text class="r" x="776.7" y="1245" text-anchor="middle">-100dB</text>
<text x="103" y="1268" text-anchor="end">10<tspan dy="-8.5" font-size="14.6">2</tspan></text>
<text x="103" y="1374.9" text-anchor="end">10<tspan dy="-8.5" font-size="14.6">1</tspan></text>
<text x="103" y="1481.8" text-anchor="end">10<tspan dy="-8.5" font-size="14.6">0</tspan></text>
<text x="103" y="1588.7" text-anchor="end">10<tspan dy="-8.5" font-size="14.6">−1</tspan></text>
<text x="103" y="1695.6" text-anchor="end">10<tspan dy="-8.5" font-size="14.6">−2</tspan></text>
<g text-anchor="middle">
<text x="116.7" y="1747.2">1</text><text x="164" y="1747.2">3</text><text x="211.3" y="1747.2">5</text><text x="258.6" y="1747.2">7</text><text x="305.9" y="1747.2">9</text><text x="353.2" y="1747.2">11</text><text x="400.5" y="1747.2">13</text><text x="447.8" y="1747.2">15</text><text x="495.1" y="1747.2">17</text><text x="542.4" y="1747.2">19</text><text x="589.7" y="1747.2">21</text><text x="637" y="1747.2">23</text><text x="684.3" y="1747.2">25</text><text x="731.6" y="1747.2">27</text><text x="778.9" y="1747.2">29</text><text x="826.2" y="1747.2">31</text>
</g>
<text x="483.5" y="1777" text-anchor="middle" style="white-space:pre">May 2024 HE NIF  HHZ</text>
<text transform="translate(40.6,1482.8) rotate(-90)" text-anchor="middle">f [Hz]</text>
<text x="929.6" y="1255.9">20</text><text x="929.6" y="1349.7">15</text><text x="929.6" y="1443.5">10</text><text x="929.6" y="1537.3">5</text><text x="929.6" y="1631.1">0</text><text x="929.6" y="1724.9">−5</text>
<text transform="translate(983.5,1482.8) rotate(-90)" text-anchor="middle">residual [dB] from average curve</text>
</svg>
</body></html>
